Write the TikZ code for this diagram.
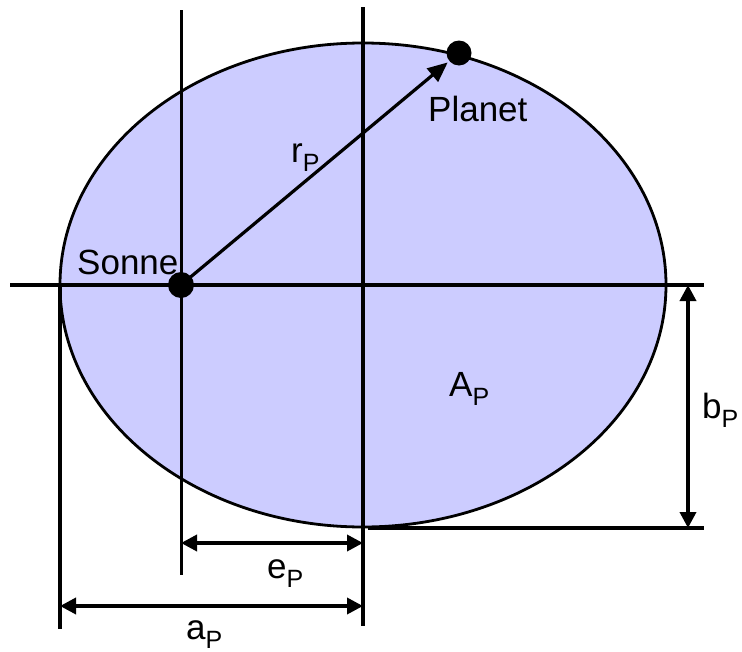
\documentclass[tikz,border=0pt]{standalone}
\usepackage{fontspec}
\setmainfont{Liberation Sans}
\usetikzlibrary{arrows.meta}
\newcommand{\mysub}[1]{\raisebox{-9pt}{\fontsize{25}{25}\selectfont #1}}
\definecolor{ellfill}{RGB}{204,204,255}
\begin{document}
\begin{tikzpicture}[x=1pt,y=-1pt,
  ln/.style={line width=3.2pt},
  dim/.style={line width=3.6pt,{Triangle[length=16pt,width=16pt]}-{Triangle[length=16pt,width=16pt]}},
  lbl/.style={font=\fontsize{35}{40}\selectfont,anchor=base west,inner sep=0pt},
  dot/.style={circle,fill=black,minimum size=26pt,inner sep=0pt}]
\useasboundingbox (0,0) rectangle (742,651);
% ellipse
\draw[fill=ellfill,line width=2.8pt] (363,285) ellipse [x radius=303,y radius=242];
% coordinates
\coordinate (Ctop) at (363,7);
\coordinate (Cbot) at (363,626);
\coordinate (Stop) at (181,10);
\coordinate (Sbot) at (181,575);
\coordinate (Hl) at (10,285);
\coordinate (Hr) at (704,285);
\coordinate (Ltop) at (60,285);
\coordinate (Lbot) at (60,629);
\coordinate (Bl) at (368,528);
\coordinate (Br) at (704,528);
% axes lines
\draw[ln] (Hl) -- (Hr);
\draw[line width=3pt] (Stop) -- (Sbot);
\draw[ln] (Ctop) -- (Cbot);
\draw[ln] (Ltop) -- (Lbot);
\draw[ln] (Bl) -- (Br);
% dots
\node[dot] (sun) at (181,285) {};
\node[dot,minimum size=25pt] (planet) at (459,53) {};
% radius arrow
\draw[line width=3.2pt,-{Triangle[length=20pt,width=17pt]},shorten >=2pt] (sun.center) -- (planet);
% dimension arrows
\coordinate (e1) at (181,543);
\coordinate (e2) at (363,543);
\coordinate (a1) at (60,606);
\coordinate (a2) at (363,606);
\coordinate (b1) at (688,285);
\coordinate (b2) at (688,528);
\draw[dim] (e1) -- (e2);
\draw[dim] (a1) -- (a2);
\draw[dim] (b1) -- (b2);
% labels
\node[lbl] (lplanet) at (428,121) {Planet};
\node[lbl] (lsonne) at (77,274) {Sonne};
\node[lbl] (lr) at (291,162) {r\mysub{P}};
\node[lbl] (lA) at (449,396) {A\mysub{P}};
\node[lbl] (lb) at (702,418) {b\mysub{P}};
\node[lbl] (le) at (267,578) {e\mysub{P}};
\node[lbl] (la) at (186,639) {a\mysub{P}};
\end{tikzpicture}
\end{document}
